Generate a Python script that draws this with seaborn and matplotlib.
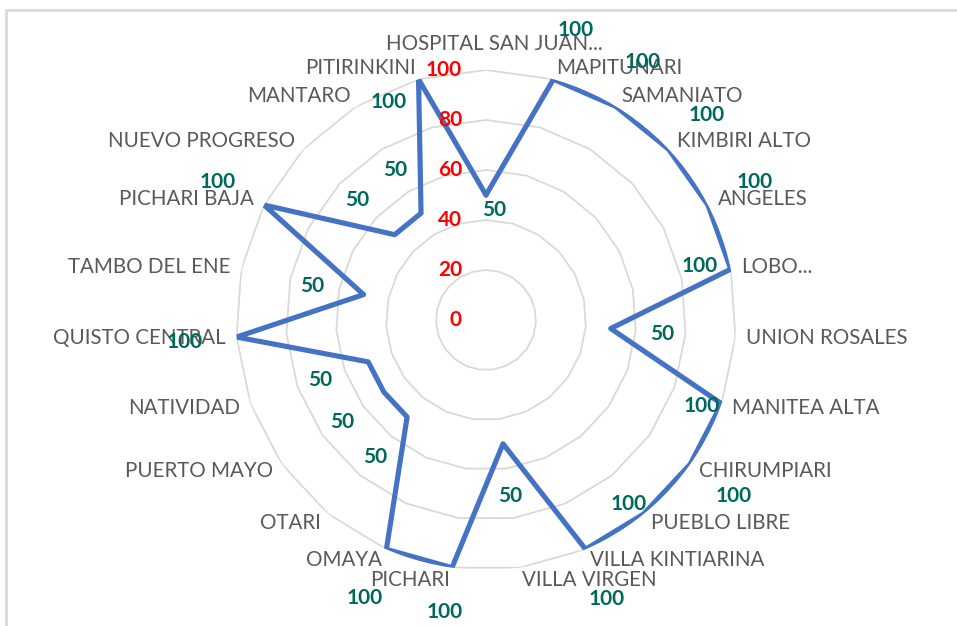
import numpy as np
import pandas as pd
import matplotlib
matplotlib.use("Agg")
import matplotlib.pyplot as plt
from matplotlib.lines import Line2D
import seaborn as sns

# data, clockwise from the top
categories = [
    "HOSPITAL SAN JUAN...", "MAPITUNARI", "SAMANIATO", "KIMBIRI ALTO", "ANGELES",
    "LOBO...", "UNION ROSALES", "MANITEA ALTA", "CHIRUMPIARI", "PUEBLO LIBRE",
    "VILLA KINTIARINA", "VILLA VIRGEN", "PICHARI", "OMAYA", "OTARI",
    "PUERTO MAYO", "NATIVIDAD", "QUISTO CENTRAL", "TAMBO DEL ENE", "PICHARI BAJA",
    "NUEVO PROGRESO", "MANTARO", "PITIRINKINI",
]
values = [50, 100, 100, 100, 100, 100, 50, 100, 100, 100, 100, 50,
          100, 100, 50, 50, 50, 100, 50, 100, 50, 50, 100]
r_ticks = [0, 20, 40, 60, 80, 100]

# where the data labels sit relative to their point (pixels)
label_offsets = [(8, -15), (22, 49), (27, 44), (38, 34), (47, 23), (-31, 3),
                 (51, -5), (-20, -2), (43, -32), (-15, 10), (21, -50), (7, -52),
                 (-7, -44), (-22, -49), (-32, -40), (-42, -30), (-48, -18),
                 (-52, -5), (-51, 9), (-46, 23), (-38, 35), (-26, 43), (-30, -23)]

BLUE = "#4472C4"
TEAL = "#00695E"
GREY_TXT = "#595959"
GRID = "#D9D9D9"

sns.set_style("white")
plt.rcParams["font.family"] = ["Lato", "DejaVu Sans"]

n = len(categories)
theta = np.arange(n) * 2 * np.pi / n
df = pd.DataFrame({
    "theta": np.append(theta, theta[0]),
    "value": values + values[:1],
})

fig = plt.figure(figsize=(9.57, 6.26), dpi=100)
ax = fig.add_axes([236 / 957, 56 / 626, 500 / 957, 500 / 626], projection="polar")
ax.set_theta_zero_location("N")
ax.set_theta_direction(-1)
ax.set_ylim(0, 100)
ax.grid(False)
ax.spines["polar"].set_visible(False)
ax.set_xticks([])
ax.set_yticks([])

# polygon gridlines
closed = np.append(theta, theta[0])
for lvl in r_ticks[1:]:
    ax.plot(closed, [lvl] * (n + 1), color=GRID, lw=1.3, zorder=1)

sns.lineplot(data=df, x="theta", y="value", sort=False, estimator=None,
             color=BLUE, lw=3.7, ax=ax, zorder=3)
ax.set_xlabel("")
ax.set_ylabel("")

# radial labels
for v in r_ticks:
    ax.annotate(str(v), (0, v), xytext=(-24, 0), textcoords="offset pixels",
                ha="right", va="center", color="#FF0000", fontsize=15,
                fontweight="bold", zorder=4)

# category labels
for t, name in zip(theta, categories):
    s, c = np.sin(t), np.cos(t)
    if abs(s) < 0.01:
        ha, dx, dy, va = "center", 8, 16, "bottom"
    else:
        ha = "left" if s > 0 else "right"
        dx, dy, va = 11 * s, 12 * c, "center"
    ax.annotate(name, (t, 100), xytext=(dx, dy), textcoords="offset pixels",
                ha=ha, va=va, color=GREY_TXT, fontsize=14.8, zorder=4,
                annotation_clip=False)

# data labels
for t, v, off in zip(theta, values, label_offsets):
    ax.annotate(str(v), (t, v), xytext=off, textcoords="offset pixels",
                ha="center", va="center", color=TEAL, fontsize=15,
                fontweight="bold", zorder=5, annotation_clip=False)

# chart frame
fig.add_artist(Line2D([6 / 957, 1], [1 - 10 / 626] * 2, color=GRID, lw=2))
fig.add_artist(Line2D([6 / 957] * 2, [0, 1 - 10 / 626], color=GRID, lw=2))

fig.savefig("out.png", dpi=100)
